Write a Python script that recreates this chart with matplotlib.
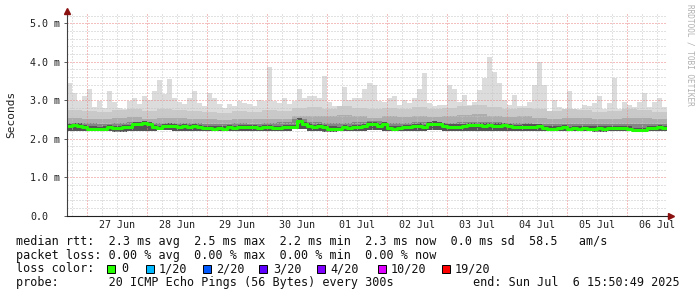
import numpy as np
import matplotlib
matplotlib.use("Agg")
import matplotlib.pyplot as plt
from matplotlib.patches import Rectangle

# ---------------- data ----------------
day_labels = ["27 Jun", "28 Jun", "29 Jun", "30 Jun", "01 Jul",
              "02 Jul", "03 Jul", "04 Jul", "05 Jul", "06 Jul"]
y_tick_labels = ["0.0", "1.0 m", "2.0 m", "3.0 m", "4.0 m", "5.0 m"]

# 2-hour columns, 10 days (ms)
max_rtt = [
    3.44, 3.18, 2.97, 3.10, 3.30, 2.83, 2.97, 2.80, 3.25, 2.95, 2.80, 2.78,
    2.97, 3.05, 2.90, 3.10, 3.00, 3.25, 3.53, 3.15, 3.55, 3.05, 2.95, 2.90,
    3.05, 3.23, 2.92, 2.85, 3.18, 3.05, 2.90, 2.80, 2.90, 2.85, 2.97, 2.92,
    2.90, 2.85, 3.00, 2.97, 3.86, 2.97, 2.92, 3.05, 2.90, 2.97, 3.30, 3.05,
    3.10, 3.10, 3.05, 3.63, 2.95, 2.85, 2.85, 3.35, 3.00, 3.05, 3.05, 3.30,
    3.44, 3.40, 2.97, 2.95, 3.05, 3.10, 2.88, 3.00, 2.92, 3.05, 3.30, 3.70,
    2.92, 2.85, 2.88, 2.88, 3.40, 3.30, 2.95, 3.13, 2.88, 2.95, 3.26, 3.57,
    4.13, 3.74, 3.44, 3.00, 2.88, 3.13, 2.85, 2.85, 2.95, 3.40, 4.00, 3.40,
    2.70, 3.00, 2.82, 2.78, 3.23, 2.70, 2.78, 2.88, 2.85, 2.92, 3.10, 2.78,
    2.92, 3.57, 2.78, 2.95, 2.88, 2.82, 2.95, 3.18, 2.82, 2.95, 3.05, 2.82,
]
median_rtt = [
    2.32, 2.35, 2.34, 2.30, 2.26, 2.26, 2.25, 2.26, 2.30, 2.28, 2.28, 2.30,
    2.30, 2.37, 2.38, 2.40, 2.37, 2.30, 2.28, 2.32, 2.34, 2.32, 2.30, 2.32,
    2.30, 2.32, 2.30, 2.28, 2.28, 2.26, 2.28, 2.26, 2.30, 2.28, 2.30, 2.30,
    2.30, 2.30, 2.28, 2.30, 2.30, 2.28, 2.28, 2.30, 2.30, 2.30, 2.47, 2.37,
    2.34, 2.30, 2.32, 2.30, 2.26, 2.26, 2.25, 2.30, 2.28, 2.30, 2.30, 2.32,
    2.37, 2.37, 2.34, 2.38, 2.28, 2.26, 2.28, 2.30, 2.30, 2.32, 2.34, 2.30,
    2.37, 2.39, 2.37, 2.34, 2.31, 2.31, 2.31, 2.32, 2.36, 2.36, 2.36, 2.34,
    2.36, 2.34, 2.34, 2.36, 2.32, 2.30, 2.30, 2.31, 2.31, 2.31, 2.32, 2.27,
    2.26, 2.26, 2.28, 2.30, 2.25, 2.28, 2.26, 2.28, 2.26, 2.26, 2.28, 2.26,
    2.28, 2.28, 2.28, 2.28, 2.26, 2.23, 2.23, 2.23, 2.28, 2.28, 2.30, 2.28,
]
# 6-hour columns (ms)
min_rtt = [
    2.20, 2.19, 2.19, 2.18, 2.19, 2.20, 2.22, 2.20, 2.20, 2.19, 2.19, 2.19,
    2.20, 2.20, 2.20, 2.24, 2.20, 2.18, 2.19, 2.20, 2.22, 2.20, 2.19, 2.21,
    2.22, 2.20, 2.20, 2.21, 2.21, 2.20, 2.20, 2.19, 2.19, 2.19, 2.20, 2.18,
    2.19, 2.19, 2.19, 2.19,
]
smoke_dark = [
    2.42, 2.40, 2.39, 2.40, 2.43, 2.41, 2.40, 2.41, 2.40, 2.39, 2.38, 2.40,
    2.39, 2.42, 2.43, 2.50, 2.43, 2.40, 2.41, 2.43, 2.45, 2.42, 2.42, 2.44,
    2.44, 2.42, 2.43, 2.44, 2.43, 2.42, 2.41, 2.39, 2.38, 2.38, 2.39, 2.37,
    2.38, 2.38, 2.37, 2.38,
]
smoke_mid = [
    2.55, 2.52, 2.50, 2.54, 2.56, 2.52, 2.55, 2.53, 2.52, 2.50, 2.48, 2.52,
    2.50, 2.52, 2.50, 2.60, 2.60, 2.58, 2.62, 2.58, 2.55, 2.58, 2.56, 2.60,
    2.56, 2.58, 2.62, 2.64, 2.60, 2.56, 2.58, 2.55, 2.52, 2.55, 2.53, 2.50,
    2.52, 2.55, 2.53, 2.50,
]
smoke_light = [
    2.75, 2.72, 2.70, 2.74, 2.78, 2.72, 2.76, 2.74, 2.72, 2.70, 2.68, 2.72,
    2.70, 2.74, 2.72, 2.80, 2.82, 2.78, 2.85, 2.80, 2.76, 2.80, 2.78, 2.82,
    2.76, 2.80, 2.84, 2.88, 2.82, 2.78, 2.80, 2.76, 2.72, 2.78, 2.74, 2.70,
    2.72, 2.76, 2.74, 2.70,
]
loss_labels = ["0", "1/20", "2/20", "3/20", "4/20", "10/20", "19/20"]
loss_colors = ["#26ff00", "#00b8ff", "#0059ff", "#5e00ff", "#7e00ff",
               "#dd00ff", "#ff0000"]

# ---------------- figure ----------------
W, H = 697, 297
fig = plt.figure(figsize=(W / 100, H / 100), dpi=100)
fig.patch.set_facecolor("white")
x0, x1, ytop, ybot = 67, 667, 13, 215.7
ax = fig.add_axes([x0 / W, (H - ybot) / H, (x1 - x0) / W, (ybot - ytop) / H])
ax.set_facecolor("white")
px_per_ms = 38.5
ax.set_xlim(0, 240)
ax.set_ylim(0, (ybot - ytop) / px_per_ms)

MONO = "DejaVu Sans Mono"


def steps(vals, width):
    xs = np.arange(len(vals) + 1) * width
    ys = np.append(np.asarray(vals, float), vals[-1])
    return xs, ys


xm, ym = steps(max_rtt, 2.0)
xl, yl = steps(min_rtt, 6.0)
_, y_light = steps(smoke_light, 6.0)
_, y_mid = steps(smoke_mid, 6.0)
_, y_dark = steps(smoke_dark, 6.0)
xmed, ymed = steps(median_rtt, 2.0)
ymin_on_2h = np.repeat(np.asarray(min_rtt), 3)
ymin_on_2h = np.append(ymin_on_2h, ymin_on_2h[-1])

ax.fill_between(xm, ymin_on_2h, ym, step="post", color="#dcdcdc", lw=0, zorder=1)
ax.fill_between(xl, yl, y_light, step="post", color="#c9c9c9", lw=0, zorder=1.1)
ax.fill_between(xl, yl, y_mid, step="post", color="#adadad", lw=0, zorder=1.2)
ax.fill_between(xl, yl, y_dark, step="post", color="#858585", lw=0, zorder=1.3)
# darkest core hugging the median
ax.fill_between(xmed, ymin_on_2h, ymed + 0.06, step="post", color="#555555",
                lw=0, zorder=1.4)

# grid (RRDtool style dotted)
first_midnight = 8.153  # hours after start (Jun 26 15:50:49)
dots = (0, (1, 2))
for k in range(-2, 42):
    h = first_midnight + 6 * k
    if 0 < h < 240 and k % 4 != 0:
        ax.axvline(h, color="#c4c4c4", lw=0.72, ls=dots, zorder=2)
for k in range(0, 27):
    v = 0.2 * k
    if k % 5 != 0:
        ax.axhline(v, color="#c4c4c4", lw=0.72, ls=dots, zorder=2)
for k in range(0, 10):
    ax.axvline(first_midnight + 24 * k, color="#e88080", lw=0.72, ls=dots, zorder=2.1)
for v in range(1, 6):
    ax.axhline(v, color="#e88080", lw=0.72, ls=dots, zorder=2.1)

# median line
ax.step(xmed, ymed, where="post", color="#20ff00", lw=2.2, zorder=3)

# axes
for s in ["top", "right"]:
    ax.spines[s].set_visible(False)
ax.spines["left"].set_color("#404040")
ax.spines["bottom"].set_color("#202020")
ax.spines["left"].set_linewidth(0.8)
ax.spines["bottom"].set_linewidth(0.8)
ax.spines["left"].set_zorder(4)
ax.spines["bottom"].set_zorder(4)
ax.plot([0], [1.012], transform=ax.transAxes, marker="^", color="#8b1010",
        ms=4, clip_on=False, zorder=5)
ax.plot([1.006], [0], transform=ax.transAxes, marker=">", color="#8b1010",
        ms=4, clip_on=False, zorder=5)
ax.plot([0, 0], [1.0, 1.012], transform=ax.transAxes, color="#404040", lw=0.8,
        clip_on=False)
ax.plot([1.0, 1.006], [0, 0], transform=ax.transAxes, color="#202020", lw=0.8,
        clip_on=False)

ax.set_yticks(range(6))
ax.set_yticklabels(y_tick_labels, family=MONO, fontsize=7.2, color="#202020")
for lbl in ax.get_yticklabels():
    lbl.set_horizontalalignment("left")
ax.tick_params(axis="y", length=2, width=0.6, color="#404040", pad=26.6 - 2)

ax.set_xticks([first_midnight + 12 + 24 * k for k in range(len(day_labels))])
ax.set_xticklabels(day_labels, family=MONO, fontsize=7.2, color="#202020")
ax.tick_params(axis="x", length=0, pad=3)

fig.text(11.5 / W, 1 - 114 / H, "Seconds", rotation=90, ha="center", va="center",
         family=MONO, fontsize=8, color="#202020")
fig.text(690 / W, 1 - 4 / H, "RRDTOOL / TOBI OETIKER", rotation=270,
         ha="center", va="top", family=MONO, fontsize=5.6, color="#b0b0b0")

# legend block
FS = 8.5


def ftext(xp, yp, s, **kw):
    fig.text(xp / W, 1 - yp / H, s, family=MONO, fontsize=FS, color="#101010",
             va="center", **kw)


ftext(16, 241, "median rtt:  2.3 ms avg  2.5 ms max  2.2 ms min  2.3 ms now  0.0 ms sd  58.5   am/s")
ftext(16, 255, "packet loss: 0.00 % avg  0.00 % max  0.00 % min  0.00 % now")
ftext(16, 269, "loss color:")
box_x = [107, 146, 203, 259, 317, 378, 442]
lab_x = [121, 159, 216, 273, 330, 391, 455]
for bx, lx, lab, col in zip(box_x, lab_x, loss_labels, loss_colors):
    fig.patches.append(Rectangle((bx / W, 1 - 273 / H), 8 / W, 8 / H,
                                 transform=fig.transFigure, facecolor=col,
                                 edgecolor="black", lw=0.7))
    ftext(lx, 269, lab)
ftext(16, 282.5, "probe:       20 ICMP Echo Pings (56 Bytes) every 300s")
ftext(680, 282.5, "end: Sun Jul  6 15:50:49 2025", ha="right")

fig.savefig("out.png", dpi=100, facecolor="white")
